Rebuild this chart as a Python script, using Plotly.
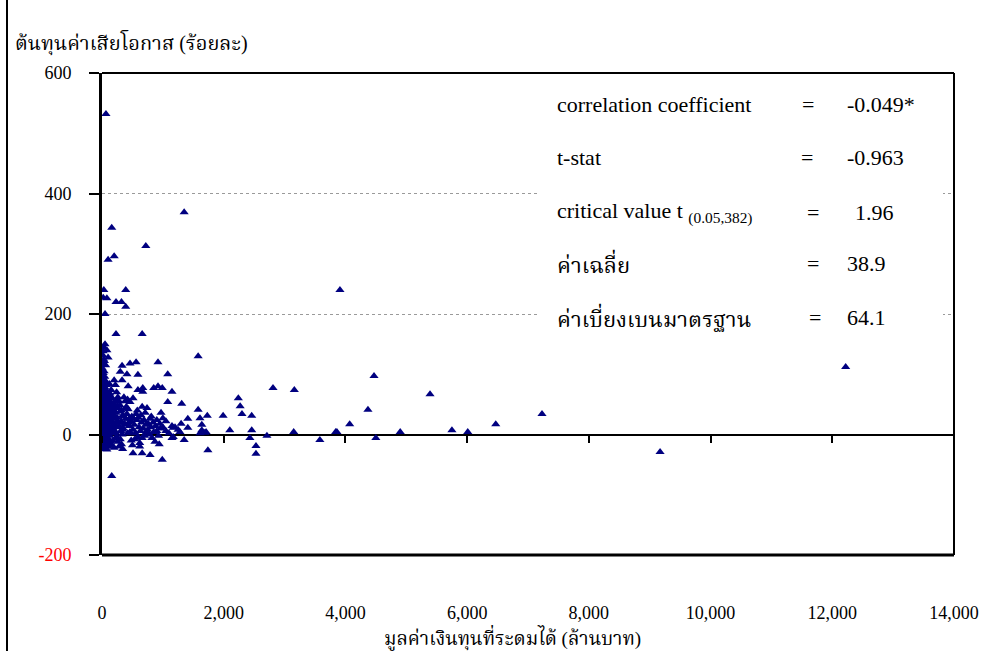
import plotly.graph_objects as go

# ---- data ----
# x: มูลค่าเงินทุนที่ระดมได้ (ล้านบาท), y: ต้นทุนค่าเสียโอกาส (ร้อยละ)
outlier_x = [65, 1350, 160, 720, 100, 200, 30, 390, 20, 80, 230, 320, 390, 50, 3910,
             230, 660, 1580, 2810, 3160, 2240, 2270, 2300, 2460, 1990, 1730, 1580, 1610,
             1640, 1410, 1410, 1310, 1080, 1080, 1150, 920, 990, 850, 920, 670, 590, 670,
             560, 460, 330, 300, 590, 410, 330, 430, 510, 460, 660, 740, 970, 1000, 1050,
             620, 510, 660, 790, 940, 990, 1150, 1350, 1740, 2430, 2530, 2530, 2710, 3580,
             2100, 2460, 3150, 3860, 1170, 1690, 1280, 1640, 1200, 1710, 1610, 1170, 160,
             4470, 5390, 4370, 4070, 3840, 4500, 4900, 5750, 6010, 6470, 7230, 12220, 9170]
outlier_y = [532, 369, 343, 313, 290, 296, 240, 240, 227, 226, 220, 220, 212, 200, 240,
             167, 167, 130, 77, 74, 60, 47, 34, 31, 31, 31, 41, 27,
             16, 26, 11, 51, 100, 54, 71, 120, 77, 77, 80, 77, 74, 71,
             120, 118, 114, 104, 99, 100, 90, 80, 60, 54, 46, 44, 36, 27, 22,
             -14, -31, -31, -34, -16, -42, -6, -9, -26, -6, -19, -32, -2, -9,
             7, 7, 4, 4, 11, 3, 4, 7, 12, 4, 2, -4, -69,
             97, 67, 41, 17, 4, -6, 4, 7, 4, 17, 34, 112, -29]

cluster_x = [8, 12, 20, 15, 30, 5, 25, 40, 10, 35, 50, 18, 28, 45, 60, 8, 22, 38, 55, 70,
             12, 30, 48, 65, 80, 5, 20, 42, 58, 75, 90, 15, 35, 52, 68, 85, 100, 10, 28, 45,
             62, 78, 95, 110, 6, 24, 40, 56, 72, 88, 105, 120, 14, 32, 50, 66, 82, 98, 115, 130,
             18, 36, 54, 70, 90, 108, 125, 20, 44, 80, 100, 5, 15, 25, 10, 35, 45, 60, 75, 92,
             110, 128, 140, 150, 160, 170, 185, 195, 210, 225, 140, 160, 180, 200, 130, 150, 170,
             190, 210, 230, 250, 270, 290, 310, 330, 240, 260, 280, 300, 320, 340, 350, 370, 390,
             410, 430, 450, 470, 490, 510, 530, 550, 570, 590, 610, 630, 650, 680, 700, 720, 750,
             780, 800, 820, 850, 880, 900, 930, 960, 200, 220, 240, 260, 280, 300, 320, 340, 360,
             380, 400, 420, 440, 460, 480, 500, 520, 540, 560, 580, 600, 620, 640, 660, 690, 710,
             730, 760, 790, 810, 840, 870, 900, 950, 1000, 1050, 1100, 1150, 1250, 1300,
             80, 100, 50, 30, 20, 40, 60, 110, 130, 150, 170, 190, 120, 140, 160, 180, 200, 220,
             240, 260, 3, 7, 12, 18, 26, 33, 42, 52, 64, 76, 88, 96, 106, 118, 136, 146, 156,
             166, 176, 186, 196, 206, 216, 236, 256, 276, 296, 316, 336, 356, 376, 396, 420, 445]
cluster_y = [95, 88, 102, 80, 92, 75, 70, 85, 65, 60, 78, 55, 50, 68, 72, 45, 42, 48, 58, 62,
             35, 30, 38, 45, 52, 25, 22, 28, 32, 40, 48, 15, 18, 20, 25, 30, 36, 8, 10, 12,
             15, 18, 22, 28, 2, 0, 4, 6, 8, 10, 14, 20, -5, -8, -3, -10, -4, 2, 5, 10,
             -15, -18, -12, -20, -14, -8, -2, -24, -22, -25, -20, 110, 118, 125, 132, 105, 96, 88, 82, 70,
             64, 56, 46, 38, 30, 22, 16, 8, 2, -6, -12, -18, -10, -22, 68, 74, 60,
             52, 44, 36, 28, 20, 12, 6, 0, -4, -12, -20, -8, -16, -24, 10, 18, 26,
             34, 42, 14, 22, 30, 8, 16, 2, 24, -4, 12, 6, 20, 10, -2, 16, 8,
             0, 12, -6, 4, 14, 6, -2, 10, 90, 82, 70, 62, 55, 48, 40, 32, 62,
             55, 46, 58, 20, 4, -10, -18, 26, -8, 34, 40, 28, -20, 32, -6, 24, 36,
             4, 18, 26, 30, 20, -12, 24, 18, 12, 6, 2, 14, 8, 18,
             140, 128, 150, 145, 138, 122, 115, 40, 30, 12, 6, 45, 84, 62, 50, 38, 26, 14,
             56, 44, 58, 40, 18, 66, 34, 54, 26, 44, 20, 36, 6, 60, 48, 32, 24, 52, 2,
             42, 10, 34, 16, 28, 4, 20, 48, 14, 38, 22, 8, 30, 16, 44, 2, 26, 12, 4]

x_all = outlier_x + cluster_x
y_all = outlier_y + cluster_y

x_ticks = [0, 2000, 4000, 6000, 8000, 10000, 12000, 14000]
x_tick_text = ["0", "2,000", "4,000", "6,000", "8,000", "10,000", "12,000", "14,000"]
y_ticks = [-200, 0, 200, 400, 600]
y_tick_text = ['<span style="color:red">-200</span>', "0", "200", "400", "600"]

stat_labels = ["correlation coefficient", "t-stat", "critical value t <sub>(0.05,382)</sub>",
               "ค่าเฉลี่ย", "ค่าเบี่ยงเบนมาตรฐาน"]
stat_values = ["-0.049*", "-0.963", "1.96", "38.9", "64.1"]

# ---- layout geometry ----
L, R, T, B = 102, 43, 73, 96
W, H = 997, 651
pw, ph = W - L - R, H - T - B


def px2x(px):
    return (px - L) / pw


def py2y(py):
    return (H - B - py) / ph


SERIF = "Liberation Serif, Times New Roman, serif"
THAI = "Liberation Serif, Noto Serif Thai, Noto Sans Thai, serif"

fig = go.Figure()
fig.add_trace(go.Scatter(
    x=x_all, y=y_all, mode="markers",
    marker=dict(symbol="triangle-up", size=8, color="#000080", line=dict(width=0)),
    hoverinfo="skip", showlegend=False,
))

fig.update_layout(
    width=W, height=H,
    margin=dict(l=L, r=R, t=T, b=B),
    paper_bgcolor="white", plot_bgcolor="white",
    font=dict(family=SERIF, size=18, color="black"),
    xaxis=dict(
        range=[0, 14000], tickvals=x_ticks, ticktext=x_tick_text,
        anchor="free", position=py2y(434.5),
        showgrid=False, zeroline=False, showline=False,
        ticks="outside", ticklen=7, tickwidth=2, tickcolor="black",
        ticklabelstandoff=155,
        tickfont=dict(family=SERIF, size=18, color="black"),
    ),
    yaxis=dict(
        range=[-200, 600], tickvals=y_ticks, ticktext=y_tick_text,
        showgrid=True, gridcolor="#9a9a9a", griddash="dot", gridwidth=1,
        zeroline=True, zerolinecolor="black", zerolinewidth=2,
        showline=True, linecolor="black", linewidth=3,
        ticks="outside", ticklen=10, tickwidth=2, tickcolor="black",
        ticklabelstandoff=14,
        tickfont=dict(family=SERIF, size=18, color="black"),
    ),
)

shapes = [
    # white box behind the statistics text (hides the gridlines there)
    dict(type="rect", xref="paper", yref="paper", x0=px2x(537), x1=px2x(943),
         y0=py2y(345), y1=py2y(78), fillcolor="white", line=dict(width=0), layer="above"),
    # plot frame
    dict(type="line", xref="paper", yref="paper", x0=0, x1=1, y0=1, y1=1,
         line=dict(color="black", width=2)),
    dict(type="line", xref="paper", yref="paper", x0=1, x1=1, y0=0, y1=1,
         line=dict(color="black", width=2)),
    dict(type="line", xref="paper", yref="paper", x0=0, x1=1, y0=0, y1=0,
         line=dict(color="black", width=3)),
    # outer chart border (left edge)
    dict(type="line", xref="paper", yref="paper", x0=px2x(7), x1=px2x(7),
         y0=py2y(651), y1=py2y(0), line=dict(color="black", width=2)),
]
fig.update_layout(shapes=shapes)

ann = [
    dict(text="ต้นทุนค่าเสียโอกาส (ร้อยละ)", x=px2x(13), y=py2y(42), xanchor="left",
         yanchor="middle", font=dict(family=THAI, size=20, color="black")),
    dict(text="มูลค่าเงินทุนที่ระดมได้ (ล้านบาท)", x=px2x(512), y=py2y(637), xanchor="center",
         yanchor="middle", font=dict(family=THAI, size=19, color="black")),
]
label_py = [104, 157, 212, 263, 317]
eq_px = [808, 807, 813, 813, 815]
val_px = [845, 845, 853, 845, 845]
for lab, val, py, ex, vx in zip(stat_labels, stat_values, label_py, eq_px, val_px):
    ann.append(dict(text=lab, x=px2x(555), y=py2y(py), xanchor="left", yanchor="middle",
                    font=dict(family=THAI, size=22, color="black")))
    ann.append(dict(text="=", x=px2x(ex), y=py2y(py), xanchor="center", yanchor="middle",
                    font=dict(family=SERIF, size=22, color="black")))
    ann.append(dict(text=val, x=px2x(vx), y=py2y(py), xanchor="left", yanchor="middle",
                    font=dict(family=SERIF, size=22, color="black")))
for a in ann:
    a.update(xref="paper", yref="paper", showarrow=False)
fig.update_layout(annotations=ann)

fig.write_html("out.html")
